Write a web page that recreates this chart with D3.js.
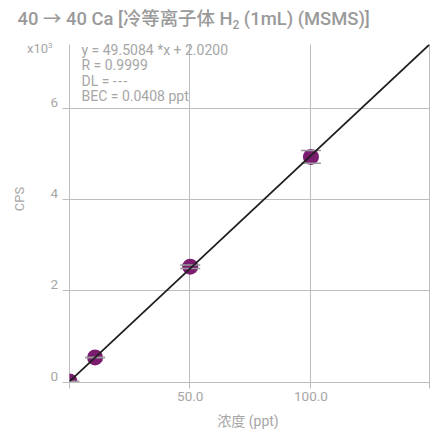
<!doctype html>
<html lang="zh">
<head>
<meta charset="utf-8">
<title>40 → 40 Ca</title>
<script src="https://cdn.jsdelivr.net/npm/d3@7"></script>
<style>
  body { margin: 0; background: #fff; }
  text { font-family: Roboto, "Noto Sans CJK SC", sans-serif; }
</style>
</head>
<body>
<svg id="chart" width="435" height="433"></svg>
<script>
// calibration points (ppt, CPS)
const conc = [0, 10.6, 50, 100];
const cps = [0, 527, 2515, 4920];
const errCps = [0, 0, 37, 140];

const slope = 49.5084;
const intercept = 2.02;

const yTicks = [0, 2000, 4000, 6000];
const xTicks = [0, 50, 100];
const xTickLabels = ["", "50.0", "100.0"];
const infoLines = ["y = 49.5084 *x + 2.0200", "R = 0.9999", "DL = ---", "BEC = 0.0408 ppt"];

const xMax = 149.1;
const yMax = slope * xMax + intercept;

const plotL = 69.5, plotR = 429.5, plotT = 44.5, plotB = 381.5;
const grey = "#bdbdbd", textGrey = "#a6a6a6";

const svg = d3.select("#chart");
const x = d3.scaleLinear().domain([0, xMax]).range([plotL, plotR]);
const y = d3.scaleLinear().domain([0, yMax]).range([plotB, plotT]);

// title
svg.append("text")
  .attr("x", 17.5).attr("y", 25)
  .attr("font-size", 18.4).attr("font-weight", 500).attr("fill", "#9a9a9a")
  .html('40 → 40 Ca [冷等离子体 H<tspan font-size="12" dy="4">2</tspan><tspan dy="-4"> (1mL) (MSMS)]</tspan>');

// horizontal grid + y ticks
svg.append("g").selectAll("line").data(yTicks).join("line")
  .attr("x1", plotL - 7).attr("x2", plotR)
  .attr("y1", d => Math.round(y(d)) + 0.5).attr("y2", d => Math.round(y(d)) + 0.5)
  .attr("stroke", grey).attr("stroke-width", 1);

svg.append("g").selectAll("text").data(yTicks).join("text")
  .attr("x", 58).attr("y", d => y(d) - 1)
  .attr("text-anchor", "end").attr("font-size", 13.5).attr("fill", textGrey)
  .text(d => d / 1000);

// vertical grid + x ticks
svg.append("g").selectAll("line").data(xTicks.concat([xMax])).join("line")
  .attr("x1", d => Math.round(x(d)) - 0.5).attr("x2", d => Math.round(x(d)) - 0.5)
  .attr("y1", plotT).attr("y2", plotB + 7)
  .attr("stroke", grey).attr("stroke-width", 1);

svg.append("g").selectAll("text").data(xTicks).join("text")
  .attr("x", d => x(d)).attr("y", 401)
  .attr("text-anchor", "middle").attr("font-size", 13.5).attr("fill", textGrey)
  .text((d, i) => xTickLabels[i]);

// axis titles
svg.append("text")
  .attr("x", 248).attr("y", 426)
  .attr("text-anchor", "middle").attr("font-size", 14).attr("fill", textGrey)
  .text("浓度 (ppt)");

svg.append("text")
  .attr("transform", "translate(24,199) rotate(-90)")
  .attr("text-anchor", "middle").attr("font-size", 13).attr("fill", textGrey)
  .text("CPS");

svg.append("text")
  .attr("x", 27).attr("y", 53)
  .attr("font-size", 13).attr("fill", textGrey)
  .html('x10<tspan font-size="8" dy="-5">3</tspan>');

// equation block (dashes spaced apart like the original)
svg.append("g").selectAll("text").data(infoLines).join("text")
  .attr("x", 81.5).attr("y", (d, i) => 54.5 + i * 15.5)
  .attr("font-size", 14).attr("fill", textGrey)
  .html(d => d.replace("---", '<tspan letter-spacing="1.5">---</tspan>'));

// plot clip
svg.append("clipPath").attr("id", "plot")
  .append("rect").attr("x", plotL).attr("y", plotT)
  .attr("width", plotR - plotL).attr("height", plotB - plotT);

const plot = svg.append("g").attr("clip-path", "url(#plot)");
const pts = conc.map((c, i) => ({ c, v: cps[i], e: errCps[i] }));

plot.selectAll("circle").data(pts).join("circle")
  .attr("cx", d => x(d.c)).attr("cy", d => y(d.v)).attr("r", 8)
  .attr("fill", "#7b1c6f");

const caps = pts.flatMap(d => [{ c: d.c, v: d.v - d.e }, { c: d.c, v: d.v + d.e }]);
plot.append("g").selectAll("line").data(caps).join("line")
  .attr("x1", d => x(d.c) - 10).attr("x2", d => x(d.c) + 10)
  .attr("y1", d => y(d.v)).attr("y2", d => y(d.v))
  .attr("stroke", "#9a9a9a").attr("stroke-width", 1.5);

// regression line
plot.append("line")
  .attr("x1", x(0)).attr("y1", y(intercept))
  .attr("x2", x(xMax)).attr("y2", y(slope * xMax + intercept))
  .attr("stroke", "#1e1e1e").attr("stroke-width", 1.8);
</script>
</body>
</html>
